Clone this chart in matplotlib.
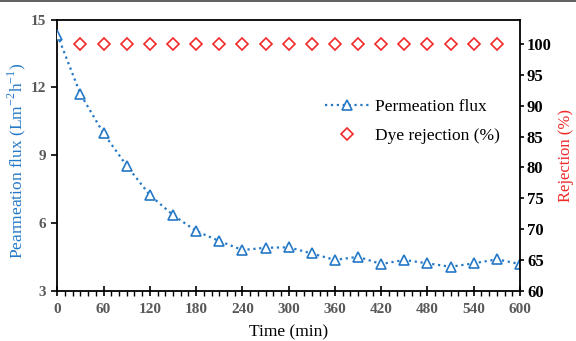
import matplotlib
matplotlib.use("Agg")
import matplotlib.pyplot as plt
from matplotlib.lines import Line2D
from matplotlib.ticker import MultipleLocator

# data
time_min = [0, 30, 60, 90, 120, 150, 180, 210, 240, 270, 300,
            330, 360, 390, 420, 450, 480, 510, 540, 570, 600]
flux = [14.33, 11.7, 9.96, 8.53, 7.23, 6.35, 5.64, 5.2, 4.8, 4.9, 4.92,
        4.65, 4.36, 4.5, 4.18, 4.36, 4.21, 4.06, 4.21, 4.39, 4.18]
rej_time = [30, 60, 90, 120, 150, 180, 210, 240, 270, 300,
            330, 360, 390, 420, 450, 480, 510, 540, 570]
rejection = [100] * len(rej_time)

x_ticks = list(range(0, 601, 60))
flux_ticks = [3, 6, 9, 12, 15]
rej_ticks = list(range(60, 101, 5))

BLUE = '#2478c6'
RED = '#f02828'
GRAY = '#595959'

plt.rcParams['font.family'] = ['Liberation Serif', 'DejaVu Serif']
plt.rcParams['mathtext.fontset'] = 'custom'
plt.rcParams['mathtext.rm'] = 'Liberation Serif'

fig = plt.figure(figsize=(5.76, 3.41), dpi=100)
ax = fig.add_axes([0.0995, 0.1475, 0.8033, 0.7953])
ax2 = ax.twinx()

l1, = ax.plot(time_min, flux, linestyle=':', linewidth=1.6, color=BLUE,
              marker='^', markersize=7, markerfacecolor='white',
              markeredgecolor=BLUE, markeredgewidth=1.2,
              label='Permeation flux', zorder=3)
l2, = ax2.plot(rej_time, rejection, linestyle='none', marker='D',
               markersize=6.5, markerfacecolor='white', markeredgecolor=RED,
               markeredgewidth=1.2, label='Dye rejection (%)')

ax.set_xlim(0, 600)
ax.set_ylim(3, 15)
ax2.set_ylim(60, 104)
ax.set_xticks(x_ticks)
ax.set_yticks(flux_ticks)
ax2.set_yticks(rej_ticks)
ax.xaxis.set_minor_locator(MultipleLocator(10))

for a in (ax, ax2):
    for s in a.spines.values():
        s.set_linewidth(1.3)
    a.spines['top'].set_visible(False)
ax.spines['right'].set_visible(False)
ax2.spines['left'].set_visible(False)
ax2.spines['bottom'].set_visible(False)
# top border
ax.add_line(Line2D([0, 1], [1, 1], transform=ax.transAxes, color='black',
                   linewidth=1.3, clip_on=False))

ax.tick_params(axis='x', which='major', direction='inout', length=7, width=1.2,
               labelsize=11, labelcolor=GRAY, pad=5)
ax.tick_params(axis='x', which='minor', direction='out', length=3.5, width=1.0)
ax.tick_params(axis='y', direction='out', length=4, width=1.2,
               labelsize=11, labelcolor=GRAY, pad=4)
ax2.tick_params(axis='y', direction='out', length=3, width=1.2,
                labelsize=12, labelcolor='black', pad=2)
for lab in ax.get_xticklabels() + ax.get_yticklabels() + ax2.get_yticklabels():
    lab.set_fontweight('bold')

ax.set_xlabel('Time (min)', fontsize=12.5)
ax.xaxis.set_label_coords(0.5, -0.125)
ax.set_ylabel('Pearmeation flux (Lm$^{\\mathregular{-2}}$h$^{\\mathregular{-1}}$)',
              fontsize=12.5, color=BLUE)
ax.yaxis.set_label_coords(-0.064, 0.48)
ax2.set_ylabel('Rejection (%)', fontsize=12, color=RED, rotation=90)
ax2.yaxis.set_label_coords(1.083, 0.5)

ax.legend(handles=[l1, l2], loc='upper right', bbox_to_anchor=(0.99, 0.765),
          frameon=False, fontsize=12.5, handlelength=2.6, labelspacing=0.75,
          handletextpad=0.3)

# grey border line at the top of the image
fig.add_artist(Line2D([0, 1], [0.998, 0.998], transform=fig.transFigure,
                      color='#444444', linewidth=1.2))

fig.savefig('out.png', dpi=100)
